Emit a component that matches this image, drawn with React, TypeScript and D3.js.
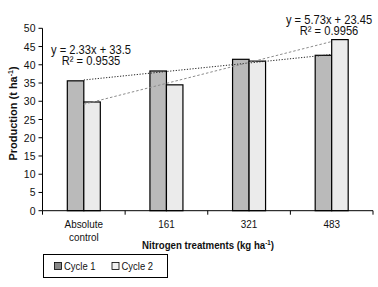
import React from "react";
import * as d3 from "d3";

const categories = ["Absolute control", "161", "321", "483"];
const seriesNames = ["Cycle 1", "Cycle 2"];
const cycle1 = [35.6, 38.3, 41.5, 42.6];
const cycle2 = [29.8, 34.5, 41.0, 46.9];
const yTicks = [0, 5, 10, 15, 20, 25, 30, 35, 40, 45, 50];
const trendSlopes = [2.33, 5.73];
const trendIntercepts = [33.5, 23.45];
const trendLabels = [
  ["y = 2.33x + 33.5", "R² = 0.9535"],
  ["y = 5.73x + 23.45", "R² = 0.9956"],
];

const W = 378;
const H = 287;
const FONT = "'Liberation Sans', Arial, sans-serif";

type TProps = {
  x: number;
  y: number;
  sx?: number;
  size: number;
  anchor?: "start" | "middle" | "end";
  bold?: boolean;
  children: React.ReactNode;
};

function T({ x, y, sx = 0.9, size, anchor = "start", bold = false, children }: TProps) {
  return (
    <text
      transform={`translate(${x},${y}) scale(${sx},1)`}
      textAnchor={anchor}
      fontSize={size}
      fontWeight={bold ? "bold" : "normal"}
      fill="#111"
    >
      {children}
    </text>
  );
}

export default function App() {
  const left = 42.5;
  const right = 373;
  const top = 28.3;
  const bottom = 210.7;

  const x = d3.scaleBand<string>().domain(categories).range([left, right]).paddingInner(0).paddingOuter(0);
  const y = d3.scaleLinear().domain([0, 50]).range([bottom, top]);
  const barW = 16.5;
  const fills = ["#bababa", "#ebebeb"];
  const legendFills = ["#888888", "#f2f2f2"];
  const series = [cycle1, cycle2];

  const center = (c: string) => (x(c) as number) + x.bandwidth() / 2;

  const trendLines = trendSlopes.map((m, si) => {
    const pts = categories.map((c, i) => [center(c), y(m * (i + 1) + trendIntercepts[si])] as [number, number]);
    return d3.line()([pts[0], pts[pts.length - 1]]) as string;
  });

  const boundaries = d3.range(categories.length + 1).map((i) => left + i * x.bandwidth());

  return (
    <svg width={W} height={H} style={{ position: "absolute", left: 0, top: 0, background: "#fff" }} fontFamily={FONT}>
      {/* bars */}
      {categories.map((c, i) => (
        <g key={c}>
          {series.map((s, si) => (
            <rect
              key={si}
              x={center(c) - barW + si * barW}
              y={y(s[i])}
              width={barW}
              height={bottom - y(s[i])}
              fill={fills[si]}
              stroke="#000"
              strokeWidth={1.2}
            />
          ))}
        </g>
      ))}
      {/* trendlines */}
      <path d={trendLines[0]} stroke="#222" strokeWidth={1} strokeDasharray="1.2,1.6" fill="none" />
      <path d={trendLines[1]} stroke="#8c8c8c" strokeWidth={1} strokeDasharray="2.5,2" fill="none" />
      {/* y axis */}
      <line x1={left} x2={left} y1={top} y2={bottom} stroke="#000" strokeWidth={1} />
      {yTicks.map((t) => (
        <g key={t}>
          <line x1={left - 4} x2={left} y1={y(t)} y2={y(t)} stroke="#000" strokeWidth={1} />
          <T x={35.5} y={y(t) + 4} size={11} sx={0.95} anchor="end">
            {t}
          </T>
        </g>
      ))}
      {/* x axis */}
      <line x1={left} x2={right} y1={bottom} y2={bottom} stroke="#000" strokeWidth={1} />
      {boundaries.map((b, i) => (
        <line key={i} x1={b} x2={b} y1={bottom} y2={bottom + 4} stroke="#000" strokeWidth={1} />
      ))}
      {categories.map((c) => {
        const parts = c === "Absolute control" ? ["Absolute", "control"] : [c];
        return (
          <g key={c}>
            {parts.map((p, k) => (
              <T key={k} x={center(c)} y={228.3 + k * 12.4} size={11} anchor="middle">
                {p}
              </T>
            ))}
          </g>
        );
      })}
      {/* axis titles */}
      <T x={208} y={248.5} size={11} sx={0.88} anchor="middle" bold>
        Nitrogen treatments (kg ha<tspan dy={-4} fontSize={7}>-1</tspan>
        <tspan dy={4}>)</tspan>
      </T>
      <text
        transform={`translate(17,113.5) rotate(-90)`}
        textAnchor="middle"
        fontSize={11}
        fontWeight="bold"
        fill="#111"
      >
        Production (t ha<tspan dy={-4} fontSize={7}>-1</tspan>
        <tspan dy={4}>)</tspan>
      </text>
      {/* trend labels */}
      <T x={91} y={54.3} size={12} sx={0.93} anchor="middle">{trendLabels[0][0]}</T>
      <T x={91} y={65.3} size={12} sx={0.93} anchor="middle">{trendLabels[0][1]}</T>
      <T x={329} y={24} size={12} sx={0.93} anchor="middle">{trendLabels[1][0]}</T>
      <T x={329} y={35} size={12} sx={0.93} anchor="middle">{trendLabels[1][1]}</T>
      {/* legend */}
      <rect x={43.5} y={254.5} width={124} height={23} fill="#fff" stroke="#000" strokeWidth={1} />
      {seriesNames.map((n, i) => (
        <g key={n}>
          <rect x={54.5 + i * 57.5} y={262.5} width={7} height={7} fill={legendFills[i]} stroke="#000" strokeWidth={0.8} />
          <T x={64 + i * 57.5} y={270} size={11} sx={0.86}>{n}</T>
        </g>
      ))}
    </svg>
  );
}
